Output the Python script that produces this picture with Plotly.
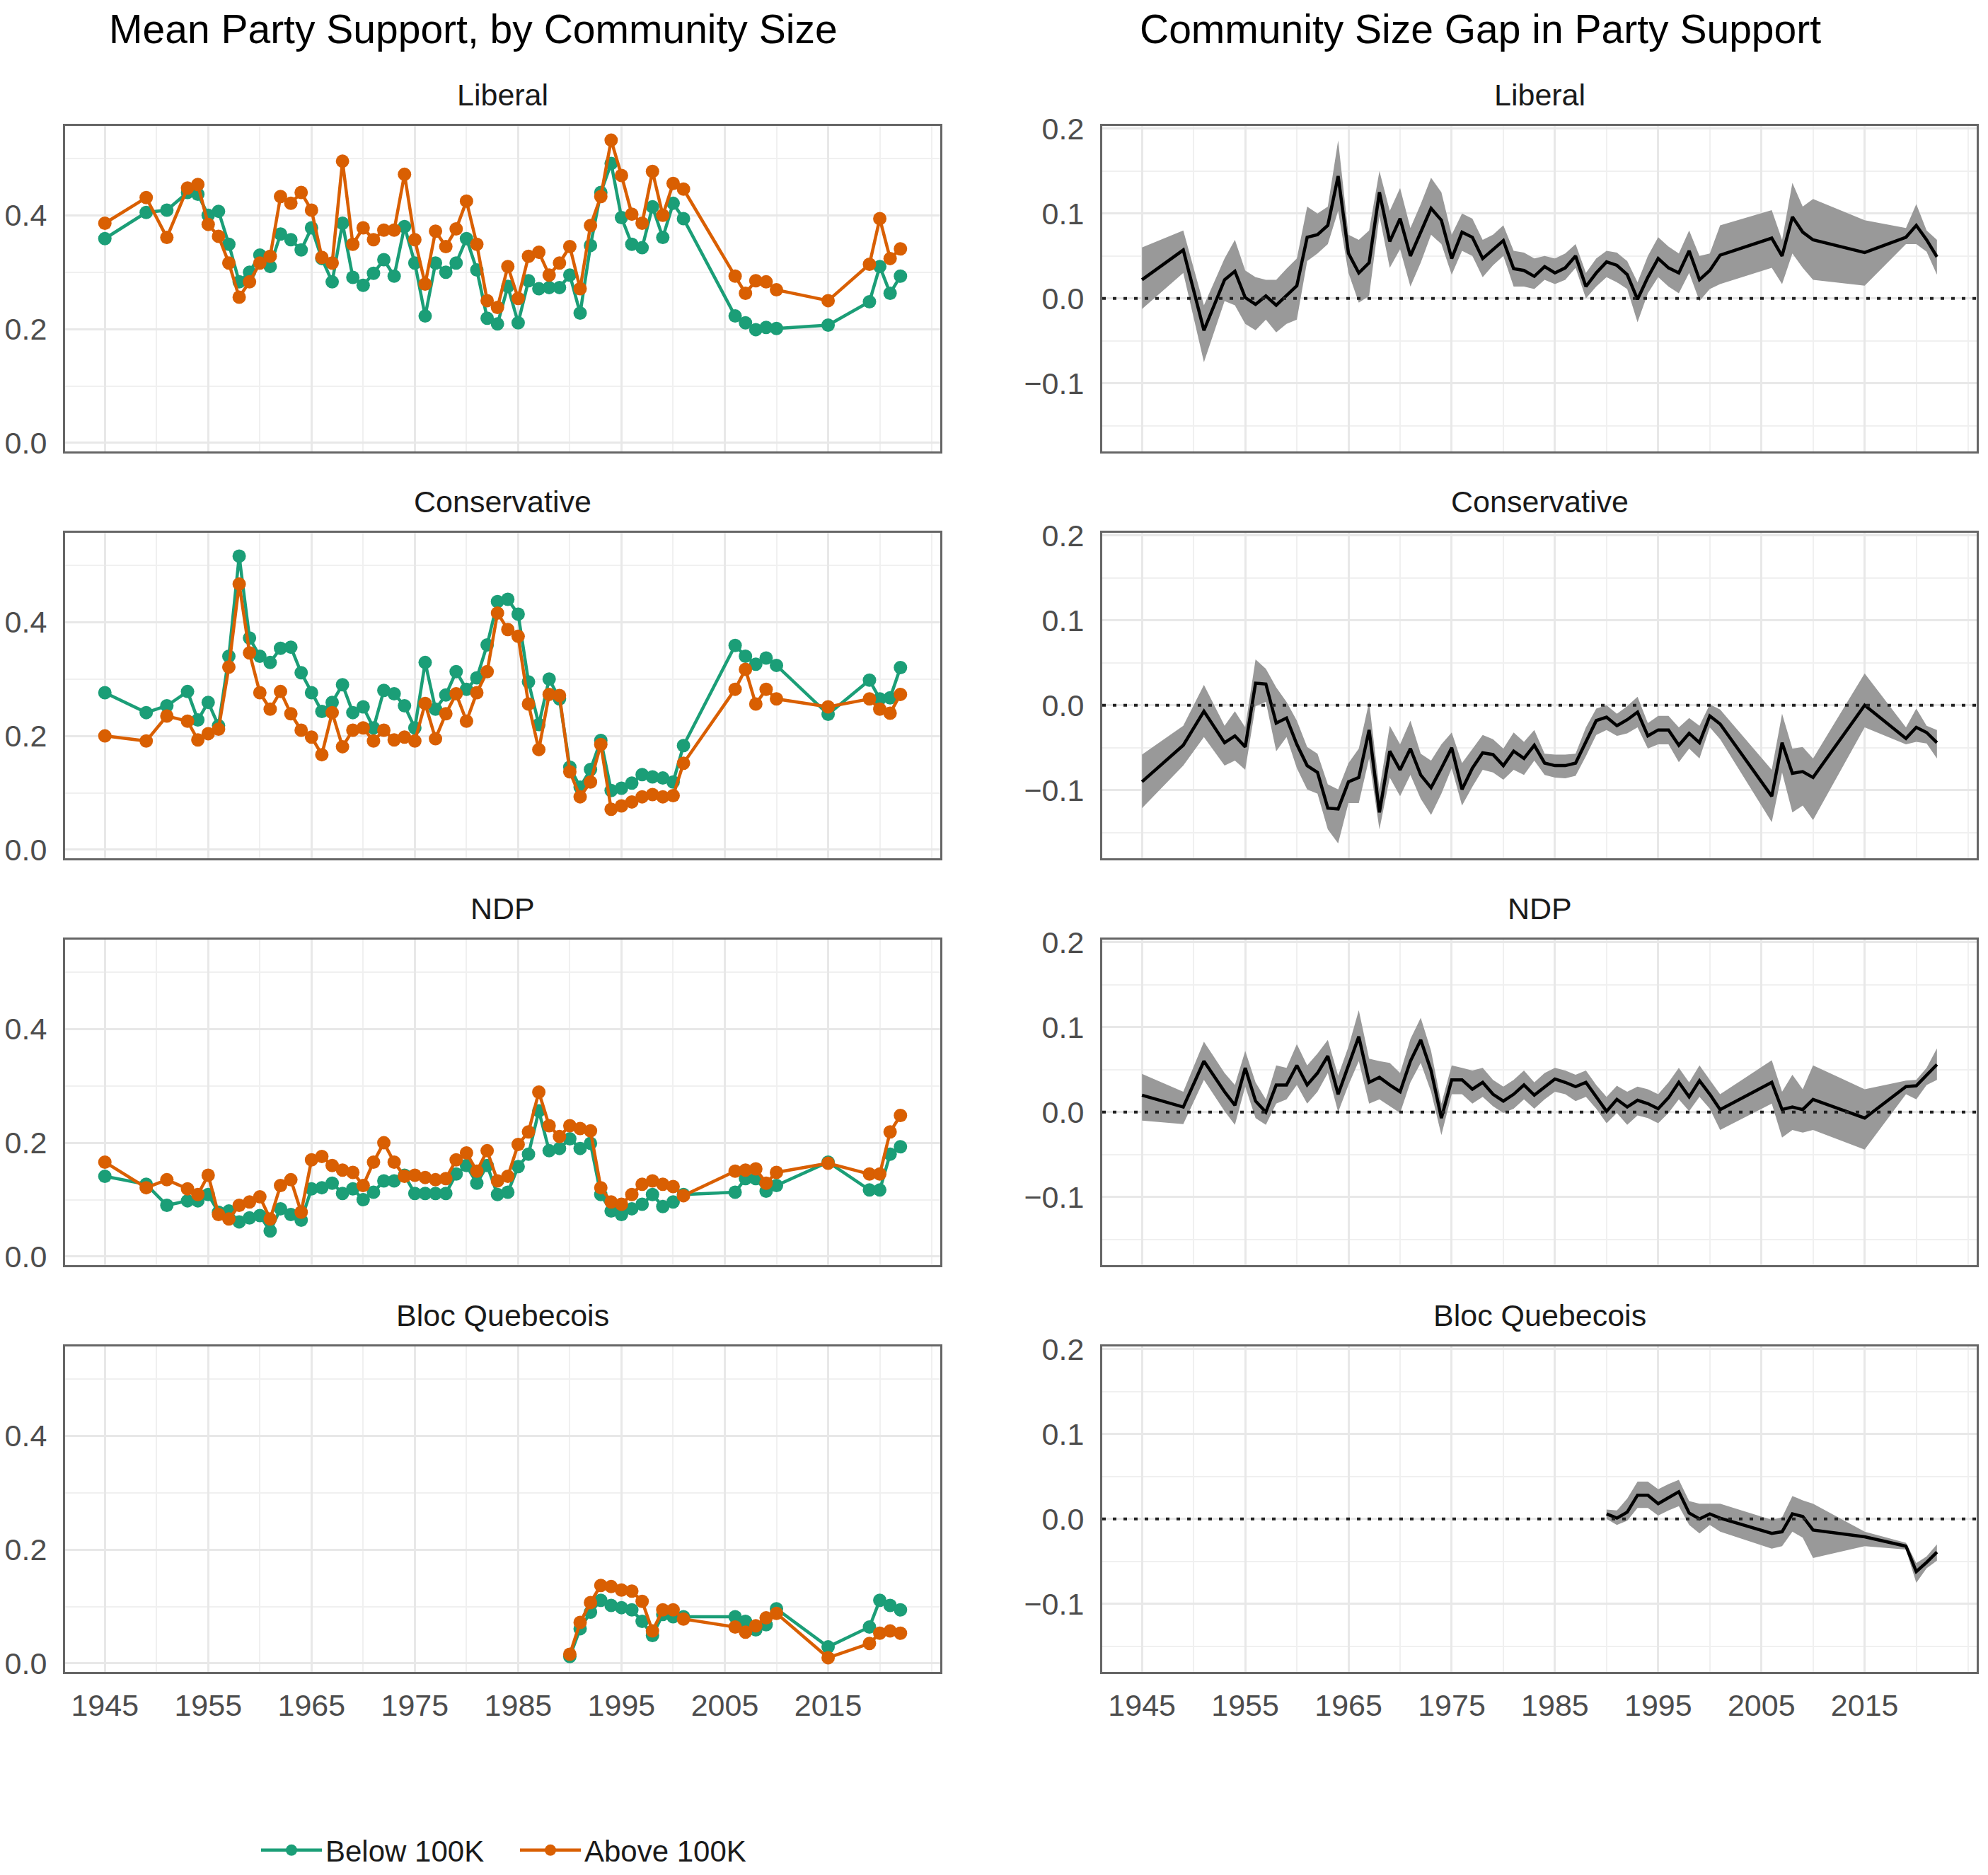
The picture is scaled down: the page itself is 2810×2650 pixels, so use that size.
import plotly.graph_objects as go

# ---------------- data ----------------
years = [1945, 1949, 1951, 1953, 1954, 1955, 1956, 1957, 1958, 1959,
         1960, 1961, 1962, 1963, 1964, 1965, 1966, 1967, 1968, 1969,
         1970, 1971, 1972, 1973, 1974, 1975, 1976, 1977, 1978, 1979,
         1980, 1981, 1982, 1983, 1984, 1985, 1986, 1987, 1988, 1989,
         1990, 1991, 1992, 1993, 1994, 1995, 1996, 1997, 1998, 1999,
         2000, 2001, 2006, 2007, 2008, 2009, 2010, 2015, 2019, 2020,
         2021, 2022]
bloc_years = [1990, 1991, 1992, 1993, 1994, 1995, 1996, 1997, 1998, 1999,
              2000, 2001, 2006, 2007, 2008, 2009, 2010, 2015, 2019, 2020,
              2021, 2022]
year_ticks = [1945, 1955, 1965, 1975, 1985, 1995, 2005, 2015]

# mean support, below / above 100K
lib_below = [.359, .405, .409, .440, .437, .400, .407, .349, .283, .300,
             .330, .310, .367, .357, .339, .378, .324, .283, .386, .291,
             .277, .298, .322, .293, .380, .316, .223, .316, .300, .316,
             .359, .304, .219, .209, .275, .211, .285, .271, .273, .273,
             .295, .228, .347, .440, .491, .396, .349, .343, .415, .361,
             .421, .394, .223, .211, .199, .203, .201, .207, .248, .310,
             .263, .293]
lib_above = [.386, .431, .361, .448, .454, .384, .363, .316, .256, .283,
             .316, .328, .433, .421, .440, .409, .326, .316, .495, .349,
             .378, .357, .374, .374, .472, .357, .279, .372, .345, .376,
             .425, .349, .250, .238, .310, .254, .328, .335, .295, .316,
             .345, .271, .382, .433, .532, .470, .402, .386, .477, .400,
             .456, .446, .293, .263, .285, .283, .269, .250, .314, .394,
             .324, .341]
con_below = [.276, .241, .253, .278, .228, .259, .218, .340, .516, .372,
             .340, .329, .354, .356, .311, .276, .243, .259, .290, .241,
             .251, .214, .280, .274, .253, .214, .329, .247, .272, .313,
             .282, .302, .360, .436, .440, .414, .295, .220, .300, .265,
             .145, .110, .141, .192, .104, .108, .117, .132, .128, .126,
             .119, .183, .359, .340, .326, .337, .324, .238, .298, .265,
             .267, .320]
con_above = [.200, .191, .235, .226, .193, .204, .212, .321, .467, .346,
             .276, .247, .278, .239, .210, .198, .167, .241, .181, .210,
             .214, .191, .210, .193, .198, .191, .257, .195, .239, .274,
             .226, .276, .313, .416, .387, .375, .256, .176, .273, .271,
             .137, .093, .119, .185, .071, .077, .084, .093, .097, .093,
             .095, .152, .282, .317, .256, .282, .265, .251, .265, .247,
             .240, .273]
ndp_below = [.141, .127, .090, .098, .098, .109, .078, .080, .061, .068,
             .072, .045, .084, .074, .064, .119, .121, .129, .111, .119,
             .100, .113, .133, .133, .143, .111, .111, .111, .111, .145,
             .160, .129, .160, .109, .113, .158, .180, .256, .186, .190,
             .207, .190, .199, .109, .080, .074, .084, .092, .109, .088,
             .096, .109, .113, .137, .137, .115, .125, .166, .117, .117,
             .180, .193]
ndp_above = [.166, .121, .135, .119, .109, .143, .074, .066, .090, .096,
             .105, .066, .125, .135, .078, .170, .176, .160, .152, .148,
             .125, .166, .200, .166, .141, .143, .139, .135, .137, .170,
             .182, .150, .186, .133, .141, .197, .219, .289, .230, .211,
             .230, .225, .221, .121, .096, .092, .109, .127, .133, .127,
             .123, .107, .150, .152, .154, .129, .148, .164, .145, .145,
             .219, .248]
bq_below = [.012, .061, .090, .111, .102, .098, .094, .074, .049, .086,
            .082, .082, .082, .074, .059, .068, .096, .029, .064, .111,
            .102, .094]
bq_above = [.016, .072, .107, .137, .135, .129, .127, .109, .057, .094,
            .094, .078, .064, .055, .066, .080, .088, .010, .035, .053,
            .057, .053]

# community size gap: estimate, lower, upper
lib_gap = [.022, .057, -.0375, .022, .032, .001, -.007, .003, -.008, .003,
           .015, .072, .075, .086, .144, .053, .030, .042, .125, .067,
           .094, .050, .078, .106, .092, .047, .078, .072, .047, .058,
           .068, .035, .033, .026, .0375, .030, .036, .050, .014, .030,
           .043, .039, .028, -.001, .025, .047, .036, .030, .056, .022,
           .033, .051, .071, .050, .096, .078, .069, .054, .072, .086,
           .069, .049]
lib_lo = [-.0125, .030, -.075, -.003, -.008, -.030, -.0375, -.025, -.040, -.030,
          -.025, .044, .053, .064, .103, .030, -.005, .003, .097, .036,
          .058, .014, .042, .075, .064, .028, .056, .050, .025, .039,
          .050, .014, .014, .011, .022, .017, .022, .036, .000, .014,
          .025, .019, .011, -.028, .006, .025, .014, .006, .030, -.003,
          .011, .017, .036, .017, .053, .036, .022, .015, .064, .064,
          .055, .028]
lib_hi = [.060, .080, -.008, .047, .069, .033, .025, .022, .022, .035,
          .047, .108, .100, .108, .186, .075, .069, .080, .150, .103,
          .130, .083, .111, .142, .125, .075, .100, .094, .069, .075,
          .086, .056, .054, .047, .050, .047, .053, .064, .030, .047,
          .056, .054, .044, .019, .050, .072, .061, .053, .080, .050,
          .053, .086, .104, .069, .136, .108, .117, .092, .083, .111,
          .080, .069]
con_gap = [-.090, -.047, -.007, -.044, -.036, -.049, .026, .025, -.021, -.015,
           -.046, -.071, -.079, -.121, -.122, -.090, -.085, -.029, -.126, -.054,
           -.076, -.051, -.082, -.097, -.074, -.050, -.099, -.074, -.056, -.058,
           -.071, -.054, -.0625, -.047, -.068, -.071, -.071, -.068, -.043, -.018,
           -.014, -.024, -.017, -.008, -.036, -.029, -.029, -.047, -.033, -.044,
           -.0125, -.022, -.107, -.044, -.080, -.078, -.085, .000, -.039, -.026,
           -.032, -.044]
con_lo = [-.121, -.071, -.0375, -.071, -.065, -.076, -.001, .004, -.054, -.0375,
          -.074, -.099, -.104, -.146, -.1625, -.115, -.115, -.0625, -.146, -.085,
          -.107, -.082, -.110, -.129, -.104, -.074, -.118, -.096, -.076, -.079,
          -.0875, -.076, -.082, -.065, -.082, -.085, -.086, -.083, -.060, -.035,
          -.029, -.036, -.033, -.026, -.051, -.046, -.046, -.067, -.051, -.0625,
          -.026, -.040, -.1375, -.079, -.126, -.118, -.135, -.026, -.046, -.043,
          -.045, -.0625]
con_hi = [-.058, -.024, .024, -.024, -.007, -.026, .054, .043, .021, .004,
          -.018, -.049, -.057, -.093, -.099, -.068, -.051, .004, -.099, -.024,
          -.046, -.018, -.057, -.065, -.046, -.032, -.068, -.051, -.035, -.040,
          -.051, -.032, -.043, -.029, -.057, -.058, -.058, -.057, -.026, -.004,
          .000, -.010, -.001, .010, -.021, -.0125, -.0125, -.026, -.015, -.024,
          .001, -.005, -.076, -.010, -.051, -.049, -.0625, .0375, -.026, -.004,
          -.024, -.029]
ndp_gap = [.020, .006, .060, .024, .008, .052, .013, .000, .032, .032,
           .055, .032, .046, .066, .021, .055, .089, .035, .041, .032,
           .024, .060, .085, .049, -.007, .038, .038, .027, .035, .021,
           .013, .021, .032, .020, .030, .039, .035, .030, .035, .018,
           .001, .015, .006, .014, .010, .004, .017, .035, .018, .037,
           .021, .003, .035, .003, .006, .003, .015, -.007, .030, .031,
           .044, .056]
ndp_lo = [-.010, -.014, .038, .001, -.015, .030, -.007, -.015, .010, .015,
          .032, .010, .024, .046, .000, .032, .060, .010, .015, .007,
          -.001, .035, .058, .024, -.027, .021, .021, .010, .018, .007,
          -.001, .004, .015, .004, .015, .024, .021, .013, .018, .004,
          -.013, -.001, -.015, -.004, -.007, -.013, -.001, .015, .001, .018,
          .004, -.021, .010, -.030, -.021, -.024, -.021, -.044, .021, .015,
          .032, .038]
ndp_hi = [.045, .024, .083, .046, .032, .072, .035, .015, .055, .052,
          .080, .055, .069, .085, .043, .077, .120, .063, .060, .058,
          .046, .086, .111, .072, .010, .055, .052, .049, .052, .038,
          .030, .038, .049, .035, .046, .052, .049, .044, .049, .032,
          .018, .031, .024, .030, .027, .021, .035, .052, .035, .055,
          .038, .021, .061, .024, .044, .027, .055, .027, .037, .038,
          .052, .075]
bq_gap = [.006, .001, .008, .028, .028, .018, .025, .032, .007, .000,
          .006, .001, -.017, -.015, .006, .003, -.013, -.021, -.032, -.062,
          -.051, -.039]
bq_lo = [.000, -.007, -.002, .013, .013, .004, .010, .015, -.007, -.017,
         -.007, -.015, -.035, -.032, -.015, -.022, -.046, -.032, -.036, -.075,
         -.058, -.049]
bq_hi = [.011, .010, .024, .044, .044, .035, .041, .046, .021, .018,
         .018, .018, -.001, .002, .027, .022, .018, -.015, -.028, -.052,
         -.044, -.030]

parties = ["Liberal", "Conservative", "NDP", "Bloc Quebecois"]
support = [(years, lib_below, lib_above), (years, con_below, con_above),
           (years, ndp_below, ndp_above), (bloc_years, bq_below, bq_above)]
gaps = [(years, lib_gap, lib_lo, lib_hi), (years, con_gap, con_lo, con_hi),
        (years, ndp_gap, ndp_lo, ndp_hi), (bloc_years, bq_gap, bq_lo, bq_hi)]

GREEN = "#1B9E77"
ORANGE = "#D95F02"
FONT = "Liberation Sans, Arial, sans-serif"

# ---------------- layout helpers (pixel -> paper) ----------------
W, H, OFF = 2794, 2634, 8


def px_x(X):
    return (X - OFF) / W


def px_y(Y):
    return 1 - (Y - OFF) / H


left_dom = [px_x(92), px_x(1329)]
right_dom = [px_x(1558), px_x(2794)]
row_top = [178, 753, 1328, 1903]
PANEL_H = 460

fig = go.Figure()

for r in range(4):
    n_left = r + 1
    n_right = r + 5
    xs, below, above = support[r]
    fig.add_trace(go.Scatter(
        x=xs, y=below, mode="lines+markers", name="Below 100K",
        line=dict(color=GREEN, width=4.5), marker=dict(color=GREEN, size=19),
        xaxis="x%d" % n_left, yaxis="y%d" % n_left,
        legendgroup="below", showlegend=(r == 0)))
    fig.add_trace(go.Scatter(
        x=xs, y=above, mode="lines+markers", name="Above 100K",
        line=dict(color=ORANGE, width=4.5), marker=dict(color=ORANGE, size=19),
        xaxis="x%d" % n_left, yaxis="y%d" % n_left,
        legendgroup="above", showlegend=(r == 0)))

    gx, est, lo, hi = gaps[r]
    fig.add_trace(go.Scatter(
        x=gx, y=lo, mode="lines", line=dict(width=0, color="#999999"),
        xaxis="x%d" % n_right, yaxis="y%d" % n_right, showlegend=False))
    fig.add_trace(go.Scatter(
        x=gx, y=hi, mode="lines", line=dict(width=0, color="#999999"),
        fill="tonexty", fillcolor="#999999",
        xaxis="x%d" % n_right, yaxis="y%d" % n_right, showlegend=False))
    fig.add_trace(go.Scatter(
        x=gx, y=est, mode="lines", line=dict(color="black", width=4.5),
        xaxis="x%d" % n_right, yaxis="y%d" % n_right, showlegend=False))

    # dotted zero line
    fig.add_shape(type="line", xref="x%d domain" % n_right, x0=0, x1=1,
                  yref="y%d" % n_right, y0=0, y1=0,
                  line=dict(color="#222222", width=4, dash="5px,10px"))

axis_common = dict(
    showgrid=True, gridcolor="#e8e8e8", gridwidth=2.5, zeroline=False,
    showline=True, mirror=True, linecolor="#666666", linewidth=3, ticks="",
    automargin=False,
    tickfont=dict(family=FONT, size=43, color="#4d4d4d"))

layout_axes = {}
for r in range(4):
    dom_y = [px_y(row_top[r] + PANEL_H), px_y(row_top[r])]
    for col, n in ((0, r + 1), (1, r + 5)):
        layout_axes["xaxis%d" % n] = dict(
            axis_common, domain=left_dom if col == 0 else right_dom,
            anchor="y%d" % n, range=[1941.15, 2025.85],
            tickmode="array", tickvals=year_ticks,
            minor=dict(tickmode="linear", tick0=1945, dtick=5, showgrid=True,
                       gridcolor="#f0f0f0", gridwidth=2),
            showticklabels=(r == 3), ticklabelstandoff=7)
        if col == 0:
            yax = dict(range=[-0.015, 0.557], tick0=0, dtick=0.2,
                       minor=dict(tick0=0, dtick=0.1, showgrid=True,
                                  gridcolor="#f0f0f0", gridwidth=2))
        else:
            yax = dict(range=[-0.18, 0.203], tick0=0, dtick=0.1,
                       minor=dict(tick0=0, dtick=0.05, showgrid=True,
                                  gridcolor="#f0f0f0", gridwidth=2))
        layout_axes["yaxis%d" % n] = dict(
            axis_common, **yax, domain=dom_y, anchor="x%d" % n,
            tickformat=".1f", ticklabelstandoff=14)

annotations = []
for r, party in enumerate(parties):
    for dom in (left_dom, right_dom):
        annotations.append(dict(
            text=party, xref="paper", yref="paper",
            x=(dom[0] + dom[1]) / 2, y=px_y(row_top[r] - 44),
            xanchor="center", yanchor="middle", showarrow=False,
            font=dict(family=FONT, size=43, color="#1a1a1a")))

annotations.append(dict(
    text="Mean Party Support, by Community Size", xref="paper", yref="paper",
    x=px_x(152), y=px_y(41), xanchor="left", yanchor="middle",
    showarrow=False, font=dict(family=FONT, size=57, color="black")))
annotations.append(dict(
    text="Community Size Gap in Party Support", xref="paper", yref="paper",
    x=px_x(1609), y=px_y(41), xanchor="left", yanchor="middle",
    showarrow=False, font=dict(family=FONT, size=57, color="black")))

fig.update_layout(
    width=W, height=H,
    margin=dict(l=0, r=0, t=0, b=0, autoexpand=False),
    paper_bgcolor="white", plot_bgcolor="white",
    font=dict(family=FONT, size=43, color="#1a1a1a"),
    annotations=annotations,
    showlegend=True,
    legend=dict(orientation="h", x=px_x(364), y=px_y(2615),
                xanchor="left", yanchor="middle",
                font=dict(family=FONT, size=42, color="#1a1a1a"),
                itemwidth=86, entrywidth=265, entrywidthmode="pixels",
                tracegroupgap=0),
    **layout_axes)

fig.write_html("out.html")
